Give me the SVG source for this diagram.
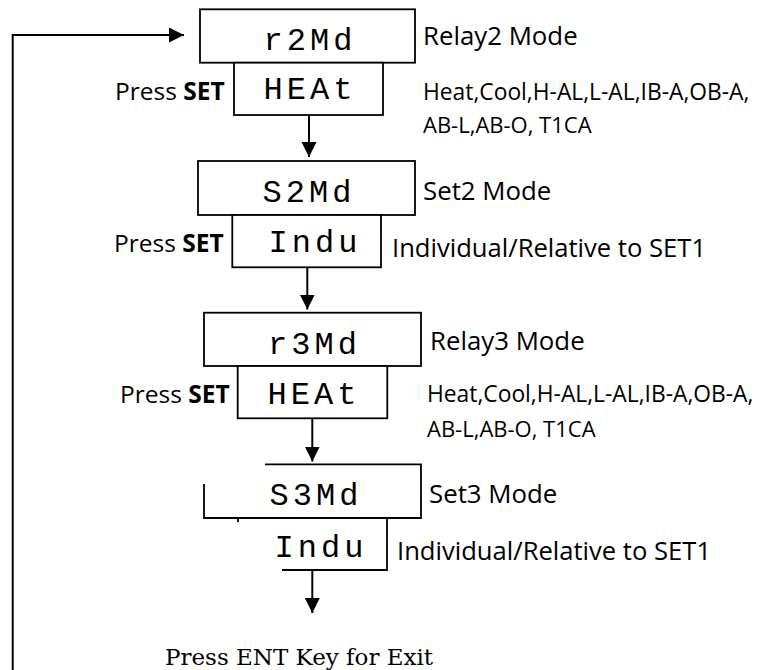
<svg xmlns="http://www.w3.org/2000/svg" width="781" height="670" viewBox="0 0 781 670">
<style>
.box{fill:#fff;stroke:#000;stroke-width:1.8}
.open{fill:none;stroke:#000;stroke-width:1.8}
.con{fill:none;stroke:#000;stroke-width:2}
.seg{font-family:"Liberation Mono",monospace;font-size:32px;letter-spacing:4px;text-anchor:middle;fill:#000}
.lbl{font-family:"Open Sans","Liberation Sans",sans-serif;fill:#000}
.mode{font-size:25.8px}
.desc{font-size:25.6px}
.list{font-size:22.8px}
.list2{font-size:22px}
.press{font-size:24.5px}
.exit{font-family:"DejaVu Serif","Liberation Serif",serif;font-size:23px;fill:#000}
</style>
<defs>
<marker id="arr" markerUnits="userSpaceOnUse" markerWidth="16" markerHeight="16" refX="15" refY="7.5" orient="auto">
<path d="M0,0 L15,7.5 L0,15 Z" fill="#000"/>
</marker>
</defs>
<rect width="781" height="670" fill="#fff"/>
<g id="connectors">
<path class="con" d="M12.7,670 V35 H184" marker-end="url(#arr)"/>
<path class="con" d="M309,115 V157" marker-end="url(#arr)"/>
<path class="con" d="M307.3,267.3 V309.5" marker-end="url(#arr)"/>
<path class="con" d="M312.3,418.3 V461.5" marker-end="url(#arr)"/>
<path class="con" d="M312.3,570 V613" marker-end="url(#arr)"/>
</g>
<g id="node-r2md">
<rect class="box" x="200" y="9.3" width="215" height="53.4"/>
<text class="seg" x="310" y="50">r2Md</text>
<text class="lbl mode" x="423" y="45">Relay2 Mode</text>
</g>
<g id="node-heat1">
<rect class="box" x="234" y="62.7" width="149" height="52.3"/>
<text class="seg" x="310" y="99">HEAt</text>
<text class="lbl press" x="115" y="100">Press <tspan font-weight="bold">SET</tspan></text>
<text class="lbl list" x="423" y="100">Heat,Cool,H-AL,L-AL,IB-A,OB-A,</text>
<text class="lbl list2" x="423" y="133">AB-L,AB-O, T1CA</text>
</g>
<g id="node-s2md">
<rect class="box" x="198" y="161" width="217" height="54"/>
<text class="seg" x="309" y="202">S2Md</text>
<text class="lbl mode" x="423" y="200">Set2 Mode</text>
</g>
<g id="node-indu1">
<rect class="box" x="232.3" y="215" width="148.7" height="52.3"/>
<text class="seg" x="315" y="251.5">Indu</text>
<text class="lbl press" x="114" y="251.5">Press <tspan font-weight="bold">SET</tspan></text>
<text class="lbl desc" x="392" y="257">Individual/Relative to SET1</text>
</g>
<g id="node-r3md">
<rect class="box" x="204" y="312.7" width="217" height="53.3"/>
<text class="seg" x="314.5" y="354">r3Md</text>
<text class="lbl mode" x="430" y="350">Relay3 Mode</text>
</g>
<g id="node-heat2">
<rect class="box" x="237.7" y="366" width="149.6" height="52.3"/>
<text class="seg" x="314" y="404">HEAt</text>
<text class="lbl press" x="120" y="403">Press <tspan font-weight="bold">SET</tspan></text>
<text class="lbl list" x="427" y="402">Heat,Cool,H-AL,L-AL,IB-A,OB-A,</text>
<text class="lbl list2" x="427" y="437">AB-L,AB-O, T1CA</text>
</g>
<g id="node-s3md">
<path class="open" d="M265,464.3 H421 V518 H204 V484"/>
<path class="open" d="M238,518 V522"/>
<text class="seg" x="316" y="505">S3Md</text>
<text class="lbl mode" x="429" y="503">Set3 Mode</text>
</g>
<g id="node-indu2">
<path class="open" d="M387,518 V570 H282"/>
<text class="seg" x="321" y="557">Indu</text>
<text class="lbl desc" x="397" y="560">Individual/Relative to SET1</text>
</g>
<g id="exit-label">
<text class="exit" x="165" y="665">Press ENT Key for Exit</text>
</g>
</svg>
